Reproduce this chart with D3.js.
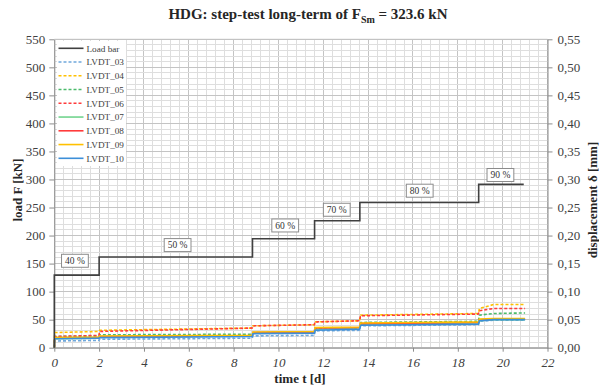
<!DOCTYPE html>
<html><head><meta charset="utf-8">
<script src="https://cdn.jsdelivr.net/npm/d3@7"></script>
<style>body{margin:0;background:#fff}svg{display:block}svg text{font-family:"Liberation Serif","Times New Roman",serif !important}</style>
</head><body><svg id="c" width="599" height="392"></svg>
<script>
// ---- data ----
const xTicks = [0,2,4,6,8,10,12,14,16,18,20,22];
const loadTicks = [0,50,100,150,200,250,300,350,400,450,500,550];
const dispTicks = [0,0.05,0.10,0.15,0.20,0.25,0.30,0.35,0.40,0.45,0.50,0.55];
// load steps (kN), step times (d)
const stepTimes = [0, 2.0, 8.84, 11.61, 13.63, 18.93, 20.94];
const loadLevels = [129.4, 161.8, 194.2, 226.5, 258.9, 291.2];
// step labels
const labelText = ["40 %","50 %","60 %","70 %","80 %","90 %"];
const labelT    = [0.92, 5.5, 10.3, 12.6, 16.3, 19.9];
const labelLoad = [155, 183, 218, 246, 280, 308];
// displacement samples (d) and values (mm)
const dispT   = [0, 0.02, 1.99, 2.02, 8.83, 8.86, 11.6, 11.63, 13.62, 13.66, 18.92, 18.96, 19.6, 21.0];
const lvdt03 = [0, 0.012, 0.013, 0.015, 0.017, 0.021, 0.022, 0.030, 0.031, 0.039, 0.041, 0.047, 0.049, 0.049];
const lvdt04 = [0, 0.027, 0.029, 0.031, 0.035, 0.039, 0.041, 0.046, 0.048, 0.058, 0.061, 0.070, 0.077, 0.077];
const lvdt05 = [0, 0.020, 0.021, 0.023, 0.024, 0.027, 0.028, 0.034, 0.035, 0.045, 0.047, 0.058, 0.061, 0.062];
const lvdt06 = [0, 0.020, 0.022, 0.029, 0.035, 0.039, 0.041, 0.046, 0.048, 0.057, 0.060, 0.066, 0.070, 0.070];
const lvdt07 = [0, 0.016, 0.017, 0.019, 0.021, 0.026, 0.027, 0.033, 0.035, 0.042, 0.044, 0.048, 0.050, 0.050];
const lvdt08 = [0, 0.017, 0.018, 0.020, 0.021, 0.027, 0.028, 0.035, 0.036, 0.043, 0.045, 0.050, 0.051, 0.051];
const lvdt09 = [0, 0.018, 0.019, 0.021, 0.022, 0.028, 0.029, 0.036, 0.037, 0.044, 0.046, 0.051, 0.052, 0.052];
const lvdt10 = [0, 0.016, 0.017, 0.018, 0.020, 0.025, 0.026, 0.031, 0.033, 0.040, 0.042, 0.048, 0.050, 0.050];
const seriesNames = ["LVDT_03","LVDT_04","LVDT_05","LVDT_06","LVDT_07","LVDT_08","LVDT_09","LVDT_10"];
const seriesVals  = [lvdt03,lvdt04,lvdt05,lvdt06,lvdt07,lvdt08,lvdt09,lvdt10];

// ---- styles ----
const seriesColor = ["#6fa8dc","#ffc000","#4cbb6c","#ff3b3b","#72d48e","#ff3b3b","#ffc000","#3d8fd8"];
const seriesDash  = ["3,2","3,2","3,2","3,2",null,null,null,null];
const SERIF = "Liberation Serif";

const svg = d3.select("#c");
const L=54.3, R=547.5, T=39.3, B=347.7;
const x = d3.scaleLinear().domain([0,22]).range([L,R]);
const yL = d3.scaleLinear().domain([0,550]).range([B,T]);
const yR = d3.scaleLinear().domain([0,0.55]).range([B,T]);

// grid
const g = svg.append("g");
for (let i=0;i<=55;i++){ const t=i*0.4; const maj = i%5===0;
  g.append("line").attr("x1",x(t)).attr("x2",x(t)).attr("y1",T).attr("y2",B)
   .attr("stroke",maj?"#c4c4c4":"#dedede").attr("stroke-width",1).attr("shape-rendering","crispEdges"); }
for (let v=0;v<=550;v+=10){ const maj=v%50===0;
  g.append("line").attr("x1",L).attr("x2",R).attr("y1",yL(v)).attr("y2",yL(v))
   .attr("stroke",maj?"#c4c4c4":"#dedede").attr("stroke-width",1).attr("shape-rendering","crispEdges"); }

// axes
const axCol="#8c8c8c", txtCol="#404040";
function styleAxis(sel){ sel.attr("font-family",SERIF).attr("font-size",13);
  sel.select(".domain").attr("stroke",axCol);
  sel.selectAll(".tick line").attr("stroke",axCol);
  sel.selectAll("text").attr("fill",txtCol).attr("font-family",SERIF).attr("font-size",13); }
const ax = svg.append("g").attr("transform",`translate(0,${B})`)
  .call(d3.axisBottom(x).tickValues(xTicks).tickSize(4).tickPadding(6).tickSizeOuter(0));
styleAxis(ax); ax.selectAll("text").attr("font-style","italic");
const al = svg.append("g").attr("transform",`translate(${L},0)`)
  .call(d3.axisLeft(yL).tickValues(loadTicks).tickSize(5).tickPadding(4).tickSizeOuter(0));
styleAxis(al);
const ar = svg.append("g").attr("transform",`translate(${R},0)`)
  .call(d3.axisRight(yR).tickValues(dispTicks).tickSize(5).tickPadding(5).tickSizeOuter(0)
  .tickFormat(d=>d3.format(".2f")(d).replace(".",",")));
styleAxis(ar);
svg.append("line").attr("x1",L).attr("x2",R).attr("y1",T).attr("y2",T).attr("stroke","#c4c4c4");

// displacement lines
const lineD = d3.line().x((d,i)=>x(dispT[i])).y(d=>yR(d));
seriesVals.forEach((vals,k)=>{
  svg.append("path").attr("d",lineD(vals)).attr("fill","none")
    .attr("stroke",seriesColor[k]).attr("stroke-width",1.6)
    .attr("stroke-dasharray",seriesDash[k]);
});

// load bar
const loadPts = [[stepTimes[0],0]];
loadLevels.forEach((lv,i)=>{ loadPts.push([stepTimes[i],lv]); loadPts.push([stepTimes[i+1],lv]); });
svg.append("path").attr("d",d3.line().x(d=>x(d[0])).y(d=>yL(d[1]))(loadPts))
  .attr("fill","none").attr("stroke","#404040").attr("stroke-width",1.6);

// labels
labelText.forEach((s,i)=>{
  const cx=x(labelT[i]), cy=yL(labelLoad[i]);
  const gg=svg.append("g");
  const t=gg.append("text").attr("x",cx).attr("y",cy).attr("dy","0.35em").attr("text-anchor","middle")
    .attr("font-size",9.5).attr("fill","#333").text(s);
  const w=t.node().getComputedTextLength()+7;
  gg.insert("rect","text").attr("x",cx-w/2).attr("y",cy-6.5).attr("width",w).attr("height",13)
    .attr("fill","#fff").attr("stroke","#8c8c8c").attr("stroke-width",1);
});

// legend
const lg = svg.append("g");
lg.append("rect").attr("x",57).attr("y",41).attr("width",69).attr("height",125).attr("fill","#fff");
const legNames=["Load bar"].concat(seriesNames), legCol=["#404040"].concat(seriesColor), legDash=[null].concat(seriesDash);
legNames.forEach((n,i)=>{ const yy=48.3+i*13.75;
  lg.append("line").attr("x1",58.5).attr("x2",83.5).attr("y1",yy).attr("y2",yy)
    .attr("stroke",legCol[i]).attr("stroke-width",1.6).attr("stroke-dasharray",legDash[i]);
  lg.append("text").attr("x",86.5).attr("y",yy).attr("dy","0.35em").attr("font-size",9.2)
    .attr("fill","#404040").text(n);
});

// titles
const tt = svg.append("text").attr("x",308).attr("y",18.5).attr("text-anchor","middle")
  .attr("font-size",15).attr("font-weight","bold").attr("fill","#262626");
tt.append("tspan").text("HDG: step-test long-term of F");
tt.append("tspan").attr("dy",4).attr("font-size",10).text("Sm");
tt.append("tspan").attr("dy",-4).text(" = 323.6 kN");
svg.append("text").attr("x",300).attr("y",383).attr("text-anchor","middle")
  .attr("font-size",13).attr("font-weight","bold").attr("fill","#262626").text("time t [d]");
svg.append("text").attr("transform","translate(17,190) rotate(-90)").attr("text-anchor","middle").attr("dy","0.35em")
  .attr("font-size",13).attr("font-weight","bold").attr("fill","#262626").text("load F [kN]");
svg.append("text").attr("transform","translate(592,200) rotate(-90)").attr("text-anchor","middle").attr("dy","0.35em")
  .attr("font-size",13).attr("font-weight","bold").attr("fill","#262626").text("displacement δ [mm]");
</script></body></html>
